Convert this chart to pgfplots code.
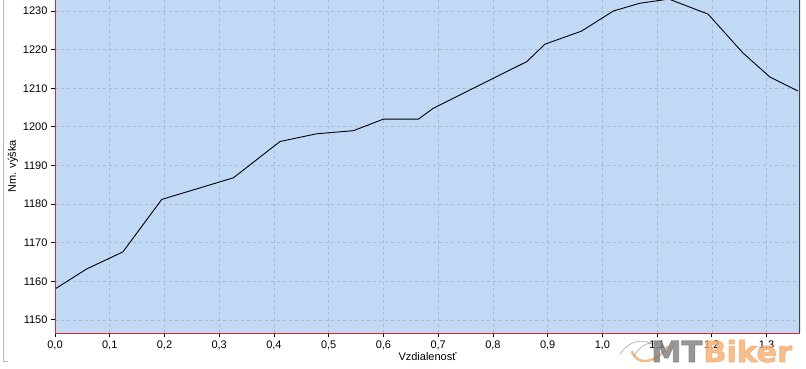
\documentclass[border=0pt]{standalone}
\usepackage{pgfplots}
\pgfplotsset{compat=1.18}
\usepackage{fontspec}
\setmainfont{Liberation Sans}
\newfontfamily\wmfont[FakeBold=2.5]{DejaVu Sans}
\definecolor{plotbg}{RGB}{193,217,244}
\definecolor{gridc}{RGB}{172,186,206}
\definecolor{axred}{RGB}{214,40,50}
\definecolor{mtgray}{RGB}{125,125,125}
\definecolor{mtorange}{RGB}{244,172,112}
\begin{document}
\begin{tikzpicture}[x=1pt,y=1pt]
\useasboundingbox (0,0) rectangle (806,368);
\begin{scope}
\clip (0,0) rectangle (806,368);
\draw[gray!55, line width=1pt] (3,368) -- (3,6.5) -- (8,6.5);
\begin{axis}[
  at={(55pt,35pt)}, anchor=south west,
  scale only axis, width=745pt, height=333pt,
  xmin=0, xmax=1.361, ymin=1146.6, ymax=1232.85,
  xtick={0,0.1,0.2,0.3,0.4,0.5,0.6,0.7,0.8,0.9,1.0,1.1,1.2,1.3},
  ytick={1150,1160,1170,1180,1190,1200,1210,1220,1230},
  xticklabel style={/pgf/number format/.cd, fixed, fixed zerofill, precision=1, use comma},
  yticklabel style={/pgf/number format/.cd, fixed, precision=0, 1000 sep={}},
  /pgf/number format/assume math mode=true,
  ticklabel style={font=\fontsize{11}{13}\selectfont, text=black},
  tick align=outside, major tick length=4pt,
  tick style={black, line width=0.8pt},
  xtick pos=bottom, ytick pos=left,
  grid=major,
  major grid style={gridc, dash pattern=on 3pt off 3pt, line width=0.7pt},
  axis background/.style={fill=plotbg},
  axis line style={draw=none},
  xlabel={Vzdialenosť},
  ylabel={Nm. výška},
  label style={font=\fontsize{11}{13}\selectfont},
  xlabel style={at={(axis description cs:0.5,0)}, anchor=north, yshift=-16pt},
  ylabel style={at={(axis description cs:-0.0564,0.5)}, anchor=center},
  clip=true,
]
\addplot[black, line width=0.9pt] coordinates {
(0.000,1158.0)
(0.058,1163.2)
(0.124,1167.6)
(0.195,1181.2)
(0.326,1186.8)
(0.411,1196.2)
(0.478,1198.2)
(0.545,1199.0)
(0.600,1202.0)
(0.664,1202.0)
(0.691,1204.8)
(0.862,1216.9)
(0.895,1221.4)
(0.962,1224.8)
(1.020,1230.0)
(1.068,1232.0)
(1.117,1233.0)
(1.123,1233.0)
(1.193,1229.2)
(1.257,1219.1)
(1.306,1212.9)
(1.357,1209.3)
};
\draw[axred, line width=1pt] (rel axis cs:0,0) -- (rel axis cs:0,1);
\draw[axred, line width=1pt] (rel axis cs:0,0) -- (rel axis cs:1,0);
\draw[black!75, line width=2pt] (rel axis cs:1,0) -- (rel axis cs:1,1);
\end{axis}
\draw[mtorange, opacity=0.85, line width=2.5pt] (632,17) .. controls (636,2) and (656,4) .. (668,22);
\draw[mtgray, opacity=0.6, line width=0.7pt] (620,14) .. controls (628,26) and (640,30) .. (652,24);
\draw[mtgray, opacity=0.6, line width=0.7pt] (634,12) .. controls (642,26) and (654,28) .. (664,22);
\node[anchor=base west, inner sep=0pt, opacity=0.8, xscale=1.05, font=\wmfont\fontsize{29}{31}\selectfont\bfseries] at (651,6) {\textcolor{mtgray}{MT}\kern1pt\textcolor{mtorange}{Biker}};
\end{scope}
\end{tikzpicture}
\end{document}
